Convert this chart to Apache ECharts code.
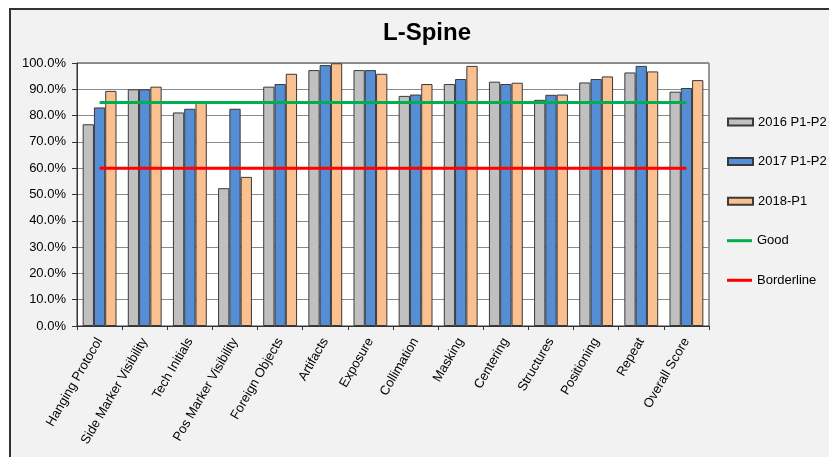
<!DOCTYPE html>
<html>
<head>
<meta charset="utf-8">
<script src="https://cdn.jsdelivr.net/npm/echarts@6/dist/echarts.min.js"></script>
<style>html,body{margin:0;padding:0;background:#fff;}#c{width:829px;height:457px;}</style>
</head>
<body>
<div id="c"></div>
<script>
const categories = ['Hanging Protocol','Side Marker Visibility','Tech Initials','Pos Marker Visibility','Foreign Objects','Artifacts','Exposure','Collimation','Masking','Centering','Structures','Positioning','Repeat','Overall Score'];
const s2016 = [76.7, 90.0, 81.2, 52.4, 91.0, 97.3, 97.3, 87.5, 92.0, 92.9, 86.0, 92.6, 96.4, 89.1];
const s2017 = [83.1, 90.0, 82.6, 82.6, 92.0, 99.2, 97.3, 88.0, 93.9, 92.0, 87.9, 93.9, 98.9, 90.5];
const s2018 = [89.4, 91.0, 85.4, 56.7, 95.9, 99.9, 95.9, 92.0, 98.9, 92.5, 88.0, 94.9, 96.8, 93.5];
const goodLevel = 85;
const borderlineLevel = 60;
const yTicks = {min: 0, max: 100, interval: 10};

const font = 'Liberation Sans, Arial, sans-serif';
const chart = echarts.init(document.getElementById('c'), null, {renderer: 'canvas'});
const barBorder = {borderColor: '#3a3a3a', borderWidth: 1};
const legendText = {fontFamily: font, fontSize: 13, color: '#000', lineHeight: 14};
chart.setOption({
  backgroundColor: '#f2f2f2',
  animation: false,
  textStyle: {fontFamily: font},
  graphic: [
    {type: 'rect', shape: {x: 0, y: 0, width: 829, height: 8}, style: {fill: '#fff'}},
    {type: 'rect', shape: {x: 0, y: 0, width: 9, height: 457}, style: {fill: '#fff'}},
    {type: 'line', shape: {x1: 9, y1: 9, x2: 829, y2: 9}, style: {stroke: '#333', lineWidth: 2}},
    {type: 'line', shape: {x1: 10, y1: 9, x2: 10, y2: 457}, style: {stroke: '#333', lineWidth: 2}}
  ],
  title: {
    text: 'L-Spine', left: 378, top: 16,
    textStyle: {fontFamily: font, fontSize: 24, fontWeight: 'bold', color: '#000'}
  },
  legend: [
    {
      orient: 'vertical', left: 722, top: 110,
      itemWidth: 25, itemHeight: 7, itemGap: 25.6, icon: 'rect',
      textStyle: legendText,
      data: ['2016 P1-P2', '2017 P1-P2', '2018-P1']
    },
    {
      orient: 'vertical', left: 722, top: 228.7,
      itemWidth: 25, itemHeight: 3, itemGap: 25.6, icon: 'rect',
      textStyle: legendText,
      data: ['Good', 'Borderline']
    }
  ],
  grid: {
    left: 77, right: 120, top: 63, bottom: 131,
    show: true, backgroundColor: '#fff', borderColor: '#333', borderWidth: 1
  },
  xAxis: {
    type: 'category', data: categories, boundaryGap: true,
    axisLine: {lineStyle: {color: '#333', width: 1}},
    axisTick: {show: true, length: 4, lineStyle: {color: '#333'}},
    axisLabel: {
      rotate: 60, interval: 0, margin: 13, fontSize: 13, color: '#000',
      fontFamily: font
    }
  },
  yAxis: {
    type: 'value', min: yTicks.min, max: yTicks.max, interval: yTicks.interval,
    axisLine: {show: true, lineStyle: {color: '#333', width: 1}},
    axisTick: {show: true, length: 5, lineStyle: {color: '#333'}},
    axisLabel: {margin: 11, fontSize: 13, color: '#000', fontFamily: font,
      formatter: v => v.toFixed(1) + '%'},
    splitLine: {show: true, lineStyle: {color: '#8a8a8a', width: 1}}
  },
  series: [
    {name: '2016 P1-P2', type: 'bar', data: s2016, barGap: '0%', barCategoryGap: '25%',
      itemStyle: Object.assign({color: '#c0c0c0'}, barBorder)},
    {name: '2017 P1-P2', type: 'bar', data: s2017, barGap: '0%', barCategoryGap: '25%',
      itemStyle: Object.assign({color: '#558ed5'}, barBorder)},
    {name: '2018-P1', type: 'bar', data: s2018, barGap: '0%', barCategoryGap: '25%',
      itemStyle: Object.assign({color: '#fac090'}, barBorder)},
    {name: 'Good', type: 'line', data: categories.map(() => goodLevel), symbol: 'none', z: 5,
      itemStyle: {color: '#00b050'}, lineStyle: {color: '#00b050', width: 3}},
    {name: 'Borderline', type: 'line', data: categories.map(() => borderlineLevel), symbol: 'none', z: 5,
      itemStyle: {color: '#ff0000'}, lineStyle: {color: '#ff0000', width: 3}}
  ]
});
</script>
</body>
</html>
